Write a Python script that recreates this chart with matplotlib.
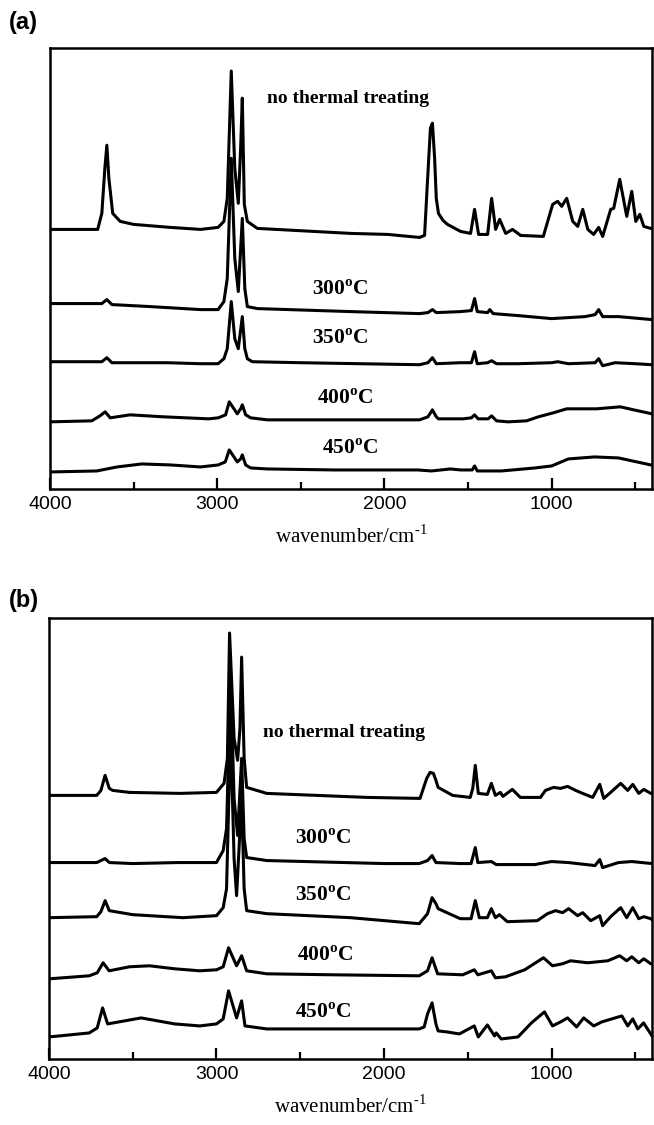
import matplotlib
matplotlib.use("Agg")
import matplotlib.pyplot as plt
from matplotlib.ticker import MultipleLocator

plt.rcParams['mathtext.fontset'] = 'custom'
plt.rcParams['mathtext.rm'] = 'Liberation Serif'
plt.rcParams['mathtext.bf'] = 'Liberation Serif:bold'

# ---- panel (a) spectra: wavenumber (cm-1) / intensity (a.u., offset) ----
a0_wn = [4000, 3715, 3690, 3672, 3660, 3648, 3625, 3580, 3500, 3280, 3100, 2995, 2960, 2940, 2916, 2895, 2874,
         2860, 2850, 2838, 2820, 2760, 2200, 1980, 1790, 1760, 1745, 1725, 1713, 1700, 1690, 1677, 1650, 1623,
         1545, 1485, 1461, 1437, 1383, 1359, 1335, 1311, 1275, 1234, 1186, 1050, 994, 964, 940, 910, 874, 844,
         814, 784, 749, 719, 695, 647, 629, 593, 551, 521, 497, 473, 449, 407, 400]
a0_y = [259, 259, 275, 320, 343, 310, 275, 267, 264, 261, 259, 261, 267, 290, 417, 320, 285,
        340, 390, 284, 267, 260, 255, 254, 251, 253, 300, 360, 365, 330, 290, 275, 268, 264,
        257, 255, 279, 254, 254, 290, 259, 269, 255, 259, 253, 252, 284, 287, 282, 290, 267, 262,
        279, 259, 254, 261, 252, 279, 280, 309, 272, 297, 267, 274, 262, 260, 260]

a1_wn = [4000, 3715, 3690, 3660, 3630, 3400, 3100, 2995, 2960, 2940, 2916, 2895, 2874, 2850, 2835, 2820, 2760,
         2200, 1790, 1740, 1713, 1690, 1545, 1480, 1461, 1445, 1383, 1370, 1350, 1200, 1000, 800, 740, 719, 695,
         600, 400]
a1_y = [185, 185, 185, 189, 184, 182, 179, 179, 187, 210, 330, 230, 197, 270, 200, 182, 180,
        177, 175, 176, 179, 176, 177, 178, 190, 177, 176, 179, 175, 173, 170, 172, 174, 179, 172,
        172, 169]

a2_wn = [4000, 3715, 3690, 3660, 3630, 3300, 3100, 2995, 2960, 2940, 2916, 2895, 2874, 2850, 2835, 2820, 2790,
         2500, 1790, 1740, 1713, 1690, 1545, 1480, 1461, 1445, 1383, 1359, 1330, 1200, 1000, 964, 900, 740, 719,
         695, 620, 500, 400]
a2_y = [127, 127, 127, 131, 126, 126, 125, 125, 130, 140, 187, 150, 140, 172, 140, 130, 127,
        126, 124, 126, 131, 125, 126, 126, 137, 125, 126, 128, 125, 125, 126, 127, 125, 126, 130,
        123, 126, 125, 124]

a3_wn = [4000, 3750, 3701, 3670, 3640, 3521, 3320, 3050, 2994, 2950, 2928, 2880, 2860, 2850, 2830, 2800, 2700,
         2000, 1790, 1740, 1713, 1690, 1677, 1530, 1480, 1461, 1440, 1380, 1359, 1330, 1260, 1150, 1080, 990,
         910, 730, 590, 510, 400]
a3_y = [67, 68, 73, 77, 71, 74, 72, 70, 71, 74, 87, 75, 80, 84, 74, 71, 69,
        69, 69, 72, 79, 72, 70, 70, 71, 74, 70, 70, 73, 68, 67, 68, 72, 76,
        80, 80, 82, 79, 75]

a4_wn = [4000, 3720, 3600, 3450, 3280, 3100, 2994, 2952, 2928, 2880, 2860, 2850, 2830, 2800, 2700, 2300, 1800,
         1720, 1605, 1545, 1475, 1461, 1445, 1300, 1100, 1000, 900, 744, 600, 407, 400]
a4_y = [17, 18, 22, 25, 24, 22, 24, 27, 39, 27, 30, 34, 24, 21, 20, 19, 19,
        18, 20, 19, 19, 23, 18, 18, 21, 23, 30, 32, 31, 24, 24]

# ---- panel (b) spectra ----
b0_wn = [4000, 3715, 3690, 3665, 3640, 3620, 3520, 3220, 3000, 2955, 2935, 2922, 2895, 2874, 2860, 2850, 2835,
         2820, 2700, 2100, 1785, 1745, 1725, 1705, 1690, 1677, 1590, 1485, 1470, 1455, 1437, 1383, 1359, 1335,
         1305, 1290, 1234, 1186, 1066, 1036, 988, 946, 904, 856, 814, 754, 712, 688, 647, 587, 545, 515, 479,
         449, 407, 400]
b0_y = [263, 263, 268, 283, 270, 268, 266, 265, 266, 275, 300, 425, 320, 298, 330, 401, 300,
        271, 265, 261, 260, 280, 286, 285, 278, 271, 263, 261, 270, 293, 265, 264, 275, 263,
        266, 262, 269, 261, 261, 268, 271, 270, 272, 268, 265, 261, 274, 260, 266, 275, 268, 274, 265,
        269, 265, 265]

b1_wn = [4000, 3715, 3690, 3665, 3640, 3500, 3230, 3000, 2960, 2940, 2916, 2895, 2874, 2850, 2835, 2820, 2700,
         2000, 1790, 1740, 1713, 1690, 1545, 1480, 1455, 1440, 1359, 1330, 1200, 1100, 1000, 900, 740, 712, 695,
         600, 520, 400]
b1_y = [196, 196, 198, 200, 196, 195, 196, 196, 208, 230, 380, 260, 223, 300, 220, 201, 198,
        195, 195, 198, 203, 196, 195, 195, 211, 196, 197, 194, 194, 194, 197, 196, 193, 199, 191,
        196, 197, 195]

b2_wn = [4000, 3715, 3690, 3665, 3640, 3500, 3200, 3000, 2960, 2940, 2916, 2895, 2880, 2850, 2835, 2820, 2700,
         2200, 1790, 1740, 1713, 1690, 1677, 1545, 1480, 1455, 1431, 1383, 1359, 1335, 1311, 1264, 1085, 1024,
         976, 934, 898, 844, 814, 766, 712, 695, 647, 587, 551, 515, 479, 449, 407, 400]
b2_y = [141, 142, 147, 158, 148, 144, 141, 143, 151, 170, 330, 200, 163, 260, 170, 148, 145,
        141, 135, 145, 161, 155, 150, 140, 140, 158, 141, 141, 150, 141, 144, 137, 138, 145,
        148, 146, 150, 143, 146, 138, 143, 133, 142, 151, 141, 151, 140, 142, 140, 139]

b3_wn = [4000, 3760, 3712, 3677, 3641, 3520, 3400, 3250, 3100, 3000, 2960, 2928, 2880, 2850, 2820, 2700, 2300,
         1790, 1740, 1713, 1680, 1530, 1461, 1440, 1359, 1335, 1275, 1160, 1048, 994, 934, 886, 784, 664, 593,
         551, 521, 479, 449, 407, 400]
b3_y = [80, 83, 86, 96, 88, 92, 93, 90, 88, 89, 92, 111, 93, 103, 88, 85, 84,
        83, 88, 101, 85, 84, 89, 84, 88, 81, 82, 89, 101, 93, 95, 98, 96, 98, 103,
        98, 102, 96, 100, 95, 95]

b4_wn = [4000, 3760, 3712, 3680, 3650, 3550, 3450, 3250, 3100, 3000, 2960, 2928, 2880, 2850, 2830, 2700, 2300,
         1790, 1760, 1740, 1713, 1690, 1677, 1623, 1550, 1461, 1437, 1383, 1340, 1330, 1300, 1200, 1120, 1042,
         994, 946, 904, 850, 808, 748, 700, 640, 580, 545, 515, 485, 450, 400]
b4_y = [22, 26, 31, 51, 35, 38, 41, 35, 33, 35, 40, 68, 41, 58, 33, 30, 30,
        30, 32, 45, 56, 35, 28, 27, 25, 33, 22, 34, 23, 26, 20, 22, 36, 47,
        33, 37, 41, 32, 41, 33, 37, 40, 43, 33, 40, 30, 36, 23]

a_series = [(a0_wn, a0_y), (a1_wn, a1_y), (a2_wn, a2_y), (a3_wn, a3_y), (a4_wn, a4_y)]
b_series = [(b0_wn, b0_y), (b1_wn, b1_y), (b2_wn, b2_y), (b3_wn, b3_y), (b4_wn, b4_y)]

labels = ['no thermal treating', r'300$^{\mathbf{o}}$C', r'350$^{\mathbf{o}}$C',
          r'400$^{\mathbf{o}}$C', r'450$^{\mathbf{o}}$C']
a_label_wn = [2216, 2264, 2264, 2234, 2204]
a_label_y = [390, 199, 150, 90, 40]
b_label_wn = [2240, 2365, 2365, 2352, 2365]
b_label_y = [326, 220, 163, 103, 46]

fig = plt.figure(figsize=(6.54, 11.25), dpi=100)


def draw_panel(ax, series, lab_wn, lab_y):
    for wn, y in series:
        ax.plot(wn, y, color='black', lw=2.2, solid_joinstyle='round')
    for i, (t, x, y) in enumerate(zip(labels, lab_wn, lab_y)):
        ax.text(x, y, t, ha='center', va='center', fontsize=14 if i == 0 else 15.5,
                fontweight='bold', family='Liberation Serif')
    ax.set_xlim(4000, 400)
    ax.set_ylim(0, 440)
    ax.set_yticks([])
    ax.xaxis.set_major_locator(MultipleLocator(1000))
    ax.xaxis.set_minor_locator(MultipleLocator(500))
    ax.tick_params(axis='x', which='both', direction='in', top=False, width=1.6)
    ax.tick_params(axis='x', which='major', length=8, labelsize=14, pad=5)
    ax.tick_params(axis='x', which='minor', length=5)
    for lbl in ax.get_xticklabels():
        lbl.set_family('Liberation Sans')
    for s in ax.spines.values():
        s.set_linewidth(1.8)
    ax.set_xlabel('wavenumber/cm$^{\\mathregular{\u20101}}$', fontsize=15,
                  family='Liberation Serif', labelpad=9)


ax_a = fig.add_axes([50 / 654, 1 - 489 / 1125, 602 / 654, 441 / 1125])
draw_panel(ax_a, a_series, a_label_wn, a_label_y)
ax_b = fig.add_axes([49 / 654, 1 - 1059 / 1125, 603 / 654, 441 / 1125])
draw_panel(ax_b, b_series, b_label_wn, b_label_y)

fig.text(9 / 654, 1 - 22 / 1125, '(a)', fontsize=17, fontweight='bold', family='Liberation Sans', va='center')
fig.text(9 / 654, 1 - 600 / 1125, '(b)', fontsize=17, fontweight='bold', family='Liberation Sans', va='center')

fig.savefig('out.png', dpi=100)
